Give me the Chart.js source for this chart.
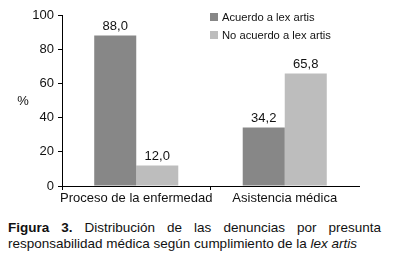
<!DOCTYPE html>
<html><head><meta charset="utf-8">
<script src="https://cdn.jsdelivr.net/npm/chart.js@4"></script>
<style>
html,body{margin:0;padding:0;background:#fff;width:396px;height:277px;overflow:hidden;font-family:"Liberation Sans",Arial,sans-serif;color:#111}
#wrap{position:absolute;left:0;top:0;width:396px;height:205px}
#legend{position:absolute;left:210px;top:8px;font-size:11.2px;line-height:18px;color:#111}
#legend div{white-space:nowrap}
#legend span.sw{display:inline-block;width:8px;height:8px;margin-right:4px;vertical-align:0px}
#caption{position:absolute;left:8px;top:220px;width:373px;font-size:13.5px;line-height:16px;text-align:justify;color:#111}
</style></head><body>
<div id="wrap"><canvas id="c" width="396" height="205"></canvas></div>
<div id="legend"></div>
<div id="caption"><b>Figura 3.</b> Distribución de las denuncias por presunta responsabilidad médica según cumplimiento de la <i>lex artis</i></div>
<script>
const categories = ["Proceso de la enfermedad", "Asistencia médica"];
const seriesNames = ["Acuerdo a lex artis", "No acuerdo a lex artis"];
const acuerdo = [88.0, 34.2];
const noAcuerdo = [12.0, 65.8];
const yTicks = [0, 20, 40, 60, 80, 100];
const colors = ["#878787", "#bdbdbd"];

const font = '"Liberation Sans", Arial, sans-serif';

const leg = document.getElementById('legend');
seriesNames.forEach((n,i)=>{
  const d = document.createElement('div');
  d.innerHTML = '<span class="sw" style="background:'+colors[i]+'"></span>' + n;
  leg.appendChild(d);
});

const extras = {
  id: 'extras',
  afterDatasetsDraw(chart) {
    const ctx = chart.ctx;
    ctx.save();
    ctx.font = '13px ' + font;
    ctx.fillStyle = '#111';
    ctx.textAlign = 'center';
    ctx.textBaseline = 'bottom';
    chart.data.datasets.forEach((ds, di) => {
      chart.getDatasetMeta(di).data.forEach((bar, i) => {
        ctx.fillText(ds.data[i].toFixed(1).replace('.', ','), bar.x, bar.y - 3);
      });
    });
    ctx.textBaseline = 'middle';
    ctx.fillText('%', 23, 101);
    ctx.restore();
  }
};

new Chart(document.getElementById('c'), {
  type: 'bar',
  data: {
    labels: categories,
    datasets: [
      { label: seriesNames[0], data: acuerdo, backgroundColor: colors[0], categoryPercentage: 0.566, barPercentage: 1.0 },
      { label: seriesNames[1], data: noAcuerdo, backgroundColor: colors[1], categoryPercentage: 0.566, barPercentage: 1.0 }
    ]
  },
  options: {
    responsive: false,
    animation: false,
    devicePixelRatio: 1,
    layout: { padding: { left: 0, right: 37, top: 15, bottom: 0 } },
    plugins: { legend: { display: false }, tooltip: { enabled: false } },
    scales: {
      x: {
        offset: true,
        afterFit(s) { s.height = 19; },
        grid: { offset: true, drawOnChartArea: false, drawTicks: true, tickLength: 4,
                color: (c) => c.type === 'tick' ? '#000' : 'rgba(0,0,0,0)' },
        border: { display: true, color: '#000', width: 1 },
        ticks: { color: '#111', font: { family: font, size: 13 }, padding: 1, maxRotation: 0, autoSkip: false }
      },
      y: {
        min: 0, max: 100,
        afterFit(s) { s.width = 62; },
        afterBuildTicks(s) { s.ticks = yTicks.map(v => ({ value: v })); },
        grid: { drawOnChartArea: false, drawTicks: true, tickLength: 4, color: '#000' },
        border: { display: true, color: '#000', width: 1 },
        ticks: { color: '#111', font: { family: font, size: 13 }, padding: 4 }
      }
    }
  },
  plugins: [extras]
});
</script>
</body></html>
